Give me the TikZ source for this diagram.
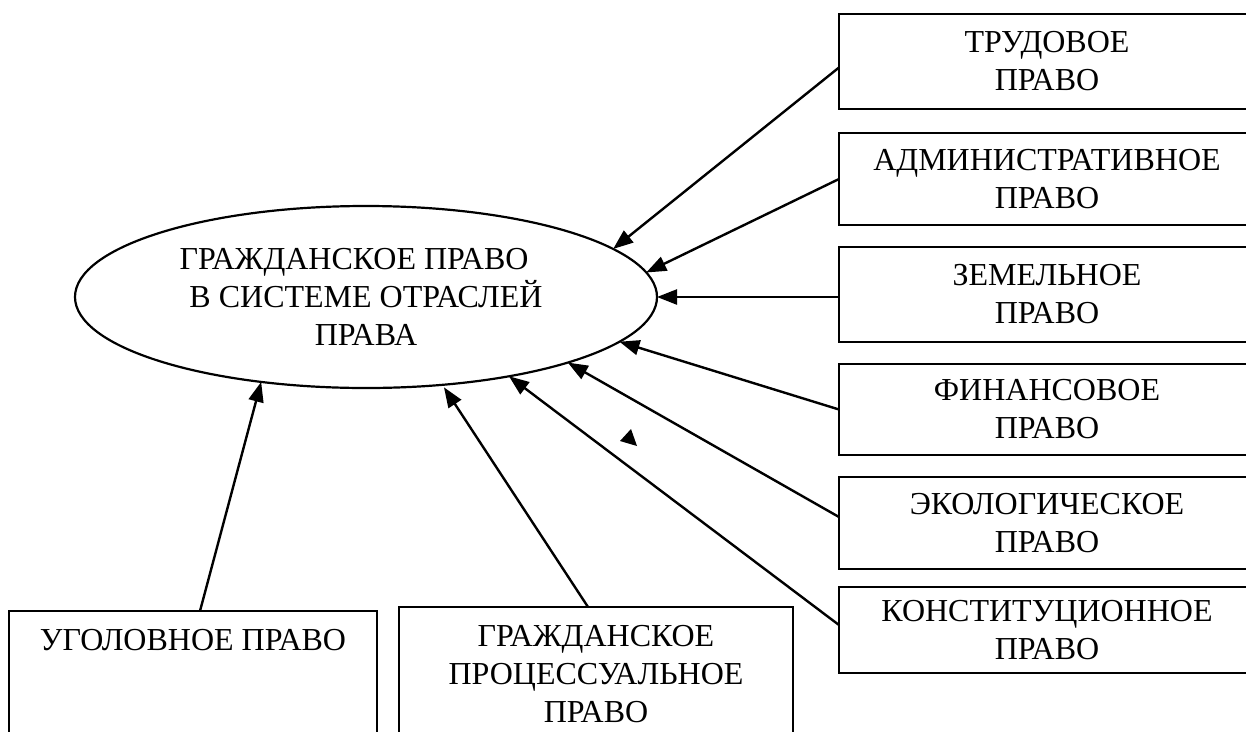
\documentclass[tikz,border=0pt]{standalone}
\usepackage{fontspec}
\setmainfont{Liberation Serif}
\usepackage{tikz}
\usetikzlibrary{arrows.meta, positioning, shapes.geometric}
\tikzset{
    branch/.style={draw, rectangle, line width=2.2pt, minimum width=416pt, minimum height=93pt, inner sep=0pt, outer sep=0pt, align=center},
    lowbranch/.style={draw, rectangle, line width=2.2pt, anchor=north, align=center, inner xsep=0pt, inner ysep=18pt, outer sep=0pt, text depth=150pt},
    arr/.style={line width=2.4pt, -{Triangle[length=20pt, width=15pt]}},
}

\begin{document}
\begin{tikzpicture}[x=1pt, y=-1pt, font=\fontsize{32}{38}\selectfont]
    \useasboundingbox (0,0) rectangle (1246,731);
    \clip (0,0) rectangle (1246,731);

    \node[ellipse, draw, line width=2.2pt, minimum width=582pt, minimum height=182pt, inner sep=0pt, outer sep=0pt, align=center] (civ) at (366,297) {ГРАЖДАНСКОЕ ПРАВО\kern24pt\\В СИСТЕМЕ ОТРАСЛЕЙ\\ПРАВА};

    \node[branch, minimum height=95pt] (trud) at (1047,61.5) {ТРУДОВОЕ\\ПРАВО};
    \node[branch, below=24pt of trud, minimum height=92pt] (adm) {АДМИНИСТРАТИВНОЕ\\ПРАВО};
    \node[branch, below=22pt of adm, minimum height=95pt] (zem) {ЗЕМЕЛЬНОЕ\\ПРАВО};
    \node[branch, below=22pt of zem, minimum height=91pt] (fin) {ФИНАНСОВОЕ\\ПРАВО};
    \node[branch, below=22pt of fin, minimum height=92pt] (eko) {ЭКОЛОГИЧЕСКОЕ\\ПРАВО};
    \node[branch, below=18pt of eko, minimum height=86pt] (kons) {КОНСТИТУЦИОННОЕ\\ПРАВО};

    \node[lowbranch, minimum width=368pt] (ugol) at (193,611) {УГОЛОВНОЕ ПРАВО};
    \node[lowbranch, minimum width=394pt] (proc) at (596,607) {ГРАЖДАНСКОЕ\\ПРОЦЕССУАЛЬНОЕ\\ПРАВО};

    \draw[arr] ([yshift=-6pt]trud.west) -- (civ.11.4);
    \draw[arr] (adm.west) -- (civ.5.2);
    \draw[arr] (civ.east -| zem.west) -- (civ.east);
    \draw[arr] (fin.west) -- (civ.-10);
    \draw[arr] ([yshift=6pt]eko.west) -- (civ.-18.5);
    \draw[arr] ([yshift=5pt]kons.west) -- (civ.-29.5);
    \draw[arr] ([xshift=7pt]ugol.north) -- (civ.-141);
    \draw[arr, shorten >=3pt] ([xshift=-8pt]proc.north) -- (civ.-49.8);

    % stray tip
    \fill (631,429) -- (620,441) -- (637,446) -- cycle;
\end{tikzpicture}
\end{document}
